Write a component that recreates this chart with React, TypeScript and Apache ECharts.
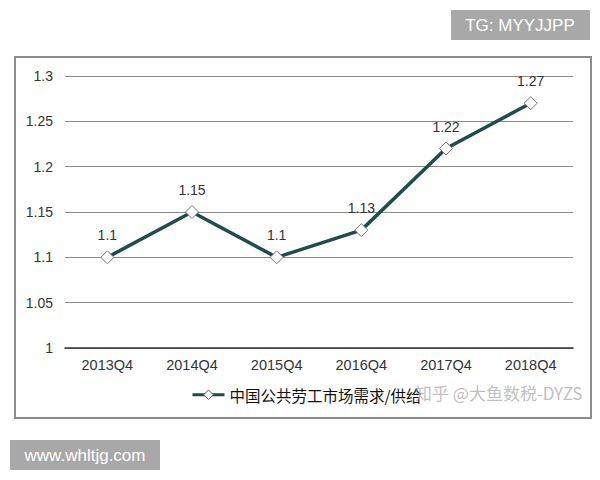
import React, { useEffect, useRef } from "react";
import * as echarts from "echarts";

const categories = ["2013Q4", "2014Q4", "2015Q4", "2016Q4", "2017Q4", "2018Q4"];
const ratio = [1.1, 1.15, 1.1, 1.13, 1.22, 1.27];
const seriesName = "中国公共劳工市场需求/供给";

export default function App() {
  const ref = useRef<HTMLDivElement>(null);
  useEffect(() => {
    const chart = echarts.init(ref.current!, null, { renderer: "svg" });
    const font = "Liberation Sans, Arial, sans-serif";
    chart.setOption({
      animation: false,
      backgroundColor: "#ffffff",
      grid: { left: 65, right: 27, top: 76, bottom: 132 },
      xAxis: {
        type: "category",
        data: categories,
        boundaryGap: true,
        axisLine: { lineStyle: { color: "#333", width: 1.5 } },
        axisTick: { show: false },
        axisLabel: { color: "#333", fontSize: 14.5, fontFamily: font, margin: 9 },
      },
      yAxis: {
        type: "value",
        min: 1,
        max: 1.3,
        interval: 0.05,
        axisLine: { show: false },
        axisTick: { show: false },
        axisLabel: {
          color: "#333",
          fontSize: 14,
          fontFamily: font,
          margin: 12,
          formatter: (v: number) => String(Math.round(v * 100) / 100),
        },
        splitLine: { lineStyle: { color: "#8a8a8a", width: 1 } },
      },
      legend: {
        left: 186,
        top: 382,
        itemWidth: 32,
        itemHeight: 12,
        itemGap: 5,
        textStyle: { color: "#111", fontSize: 15.5, fontFamily: "Noto Sans CJK SC, sans-serif" },
        data: [
          {
            name: seriesName,
            lineStyle: { color: "#1d4d4f", width: 3 },
            itemStyle: { color: "#ffffff", borderColor: "#555", borderWidth: 1 },
          },
        ],
      },
      series: [
        {
          name: seriesName,
          type: "line",
          data: ratio,
          symbol: "diamond",
          symbolSize: 13,
          lineStyle: { color: "#1d4d4f", width: 3.5 },
          itemStyle: { color: "#ffffff", borderColor: "#777", borderWidth: 1 },
          label: {
            show: true,
            position: "top",
            distance: 8,
            color: "#333",
            fontSize: 14,
            fontFamily: font,
          },
        },
      ],
      graphic: [
        {
          type: "rect",
          shape: { x: 15, y: 57, width: 576, height: 361 },
          style: { fill: "none", stroke: "#8c8c8c", lineWidth: 2 },
          z: -1,
        },
        {
          type: "text",
          x: 415,
          y: 392,
          style: {
            text: "知乎 @大鱼数税-DYZS",
            fill: "rgba(170,170,170,0.75)",
            fontSize: 17,
            fontFamily: "Noto Sans CJK SC, sans-serif",
            verticalAlign: "middle",
          },
          z: 10,
        },
        {
          type: "rect",
          shape: { x: 451, y: 10, width: 139, height: 30 },
          style: { fill: "#a8a8a8" },
        },
        {
          type: "text",
          x: 520,
          y: 25,
          style: {
            text: "TG: MYYJJPP",
            fill: "#ffffff",
            fontSize: 17,
            fontFamily: font,
            align: "center",
            verticalAlign: "middle",
          },
        },
        {
          type: "rect",
          shape: { x: 10, y: 440, width: 150, height: 30 },
          style: { fill: "#a8a8a8" },
        },
        {
          type: "text",
          x: 85,
          y: 455,
          style: {
            text: "www.whltjg.com",
            fill: "#ffffff",
            fontSize: 17,
            fontFamily: font,
            align: "center",
            verticalAlign: "middle",
          },
        },
      ],
    });
    return () => chart.dispose();
  }, []);
  return (
    <div
      ref={ref}
      style={{ position: "fixed", left: 0, top: 0, width: 600, height: 480 }}
    />
  );
}
